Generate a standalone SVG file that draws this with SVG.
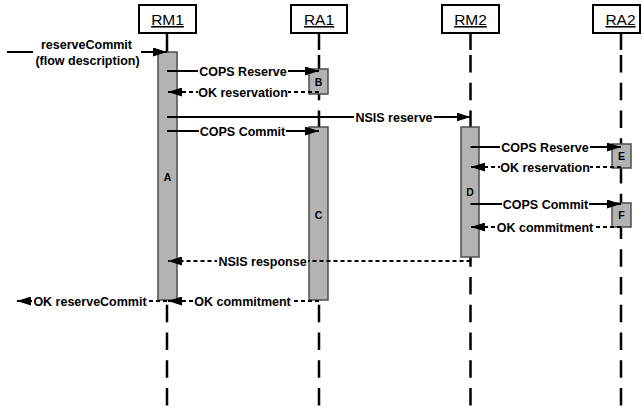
<svg xmlns="http://www.w3.org/2000/svg" width="642" height="408" viewBox="0 0 642 408">
  <style>
    .head { fill: #fff; stroke: #000; stroke-width: 2; }
    .headtxt { font-family: "Liberation Sans", Arial, sans-serif; font-size: 15.5px; text-anchor: middle; text-decoration: underline; fill: #000; }
    .life { stroke: #000; stroke-width: 2.5; fill: none; }
    .lifedash { stroke: #000; stroke-width: 2.5; fill: none; stroke-dasharray: 17.5 10.25; }
    .act { fill: #b3b3b3; stroke: #4d4d4d; stroke-width: 1.5; }
    .acttxt { font-family: "Liberation Sans", Arial, sans-serif; font-size: 10.5px; font-weight: bold; text-anchor: middle; fill: #000; }
    .msg { stroke: #000; stroke-width: 2; fill: none; marker-end: url(#arrow); }
    .ret { stroke: #000; stroke-width: 2; fill: none; stroke-dasharray: 4 3; marker-end: url(#arrow); }
    .lbl { font-family: "Liberation Sans", Arial, sans-serif; font-size: 12.5px; font-weight: bold; text-anchor: middle; fill: #000; }
    .bg { fill: #fff; }
  </style>
  <defs>
    <marker id="arrow" markerUnits="userSpaceOnUse" markerWidth="14" markerHeight="9" refX="14" refY="4.5" orient="auto">
      <path d="M0,0 L14,4.5 L0,9 z" fill="#000"/>
    </marker>
  </defs>

  <!-- lifelines with their header boxes -->
  <g id="RM1">
    <line class="life" x1="167" y1="33" x2="167" y2="52"/>
    <line class="lifedash" x1="167" y1="55" x2="167" y2="408"/>
    <rect class="head" x="139" y="5" width="57" height="28"/>
    <text class="headtxt" x="167.5" y="25">RM1</text>
  </g>
  <g id="RA1">
    <line class="life" x1="319" y1="33" x2="319" y2="50"/>
    <line class="lifedash" x1="319" y1="55" x2="319" y2="408"/>
    <rect class="head" x="291" y="5" width="56" height="28"/>
    <text class="headtxt" x="319" y="25">RA1</text>
  </g>
  <g id="RM2">
    <line class="life" x1="470.5" y1="33" x2="470.5" y2="50"/>
    <line class="lifedash" x1="470.5" y1="55" x2="470.5" y2="408"/>
    <rect class="head" x="442" y="5" width="57" height="28"/>
    <text class="headtxt" x="470.5" y="25">RM2</text>
  </g>
  <g id="RA2">
    <line class="life" x1="621" y1="33" x2="621" y2="50"/>
    <line class="lifedash" x1="621" y1="55" x2="621" y2="408"/>
    <rect class="head" x="593" y="5" width="47" height="28"/>
    <text class="headtxt" x="620.5" y="25">RA2</text>
  </g>

  <!-- activation bars -->
  <g id="A">
    <rect class="act" x="158" y="52" width="19" height="248"/>
    <text class="acttxt" x="167.5" y="181">A</text>
  </g>
  <g id="B">
    <rect class="act" x="309" y="69" width="19" height="25"/>
    <text class="acttxt" x="318.5" y="86">B</text>
  </g>
  <g id="C">
    <rect class="act" x="309" y="127" width="19" height="173"/>
    <text class="acttxt" x="318.5" y="219">C</text>
  </g>
  <g id="D">
    <rect class="act" x="461" y="127" width="18" height="130"/>
    <text class="acttxt" x="470" y="196">D</text>
  </g>
  <g id="E">
    <rect class="act" x="612" y="144" width="19" height="24"/>
    <text class="acttxt" x="621.5" y="160">E</text>
  </g>
  <g id="F">
    <rect class="act" x="612" y="203" width="19" height="24"/>
    <text class="acttxt" x="621.5" y="219">F</text>
  </g>

  <!-- messages -->
  <g id="connectors">
    <line class="msg" x1="7" y1="52" x2="167" y2="52"/>
    <rect class="bg" x="33" y="38" width="108" height="32"/>
    <text class="lbl" x="86.5" y="49">reserveCommit</text>
    <text class="lbl" x="87.5" y="65">(flow description)</text>

    <line class="msg" x1="167" y1="71" x2="319" y2="71"/>
    <rect class="bg" x="198" y="64" width="90" height="14"/>
    <text class="lbl" x="243" y="75.5">COPS Reserve</text>

    <line class="ret" x1="319" y1="92" x2="168" y2="92"/>
    <rect class="bg" x="198" y="85" width="90" height="14"/>
    <text class="lbl" x="243" y="96.5">OK reservation</text>

    <line class="msg" x1="167" y1="117" x2="470.5" y2="117"/>
    <rect class="bg" x="354" y="110" width="80" height="14"/>
    <text class="lbl" x="394" y="121.5">NSIS reserve</text>

    <line class="msg" x1="167" y1="131" x2="319" y2="131"/>
    <rect class="bg" x="199" y="124" width="87" height="14"/>
    <text class="lbl" x="242.5" y="135.5">COPS Commit</text>

    <line class="msg" x1="470.5" y1="147" x2="621" y2="147"/>
    <rect class="bg" x="500" y="140" width="90" height="14"/>
    <text class="lbl" x="545" y="151.5">COPS Reserve</text>

    <line class="ret" x1="621" y1="167" x2="471" y2="167"/>
    <rect class="bg" x="500" y="160" width="90" height="14"/>
    <text class="lbl" x="545" y="171.5">OK reservation</text>

    <line class="msg" x1="470.5" y1="204" x2="621" y2="204"/>
    <rect class="bg" x="502" y="197" width="87" height="14"/>
    <text class="lbl" x="545.5" y="208.5">COPS Commit</text>

    <line class="ret" x1="621" y1="227" x2="471" y2="227"/>
    <rect class="bg" x="496" y="220" width="98" height="14"/>
    <text class="lbl" x="545" y="231.5">OK commitment</text>

    <line class="ret" x1="470.5" y1="261" x2="168" y2="261"/>
    <rect class="bg" x="217" y="254" width="91" height="14"/>
    <text class="lbl" x="262.5" y="265.5">NSIS response</text>

    <line class="ret" x1="319" y1="301" x2="168" y2="301"/>
    <rect class="bg" x="194" y="294" width="97" height="14"/>
    <text class="lbl" x="242.5" y="305.5">OK commitment</text>

    <line class="ret" x1="167" y1="301" x2="17" y2="301"/>
    <rect class="bg" x="32" y="294" width="116" height="14"/>
    <text class="lbl" x="90" y="305.5">OK reserveCommit</text>
  </g>
</svg>
